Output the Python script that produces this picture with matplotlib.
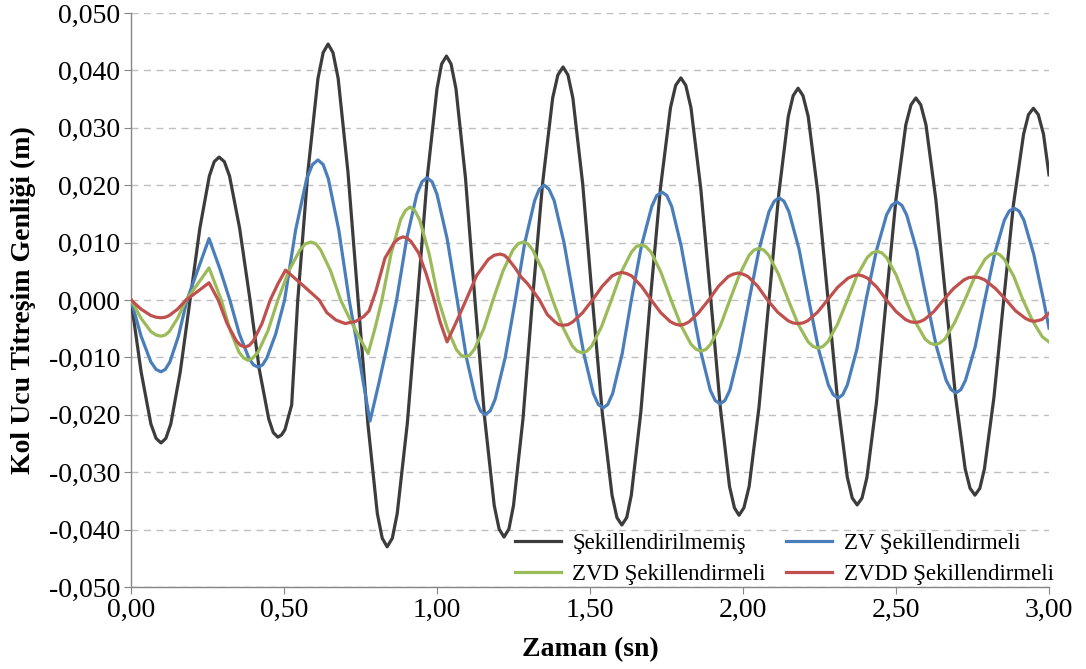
import matplotlib
matplotlib.use('Agg')
import matplotlib.pyplot as plt
from matplotlib.ticker import FuncFormatter, MultipleLocator

plt.rcParams['font.family'] = ['Liberation Serif', 'DejaVu Serif']

# Şekillendirilmemiş
t_black = [0, 0.033, 0.065, 0.082, 0.098, 0.114, 0.13, 0.161, 0.193,
           0.225, 0.256, 0.272, 0.288, 0.305, 0.322, 0.355, 0.389,
           0.419, 0.45, 0.465, 0.48, 0.492, 0.503, 0.525,
           0.545, 0.578, 0.611, 0.628, 0.644, 0.66, 0.677, 0.709, 0.742,
           0.774, 0.805, 0.821, 0.837, 0.854, 0.87, 0.903, 0.936,
           0.968, 1.0, 1.015, 1.031, 1.046, 1.062, 1.093, 1.124,
           1.156, 1.187, 1.203, 1.219, 1.235, 1.25, 1.281, 1.312,
           1.345, 1.378, 1.395, 1.412, 1.428, 1.444, 1.476, 1.508,
           1.54, 1.572, 1.588, 1.604, 1.62, 1.635, 1.666, 1.697,
           1.73, 1.763, 1.78, 1.797, 1.813, 1.83, 1.862, 1.895,
           1.926, 1.956, 1.972, 1.987, 2.003, 2.02, 2.052, 2.085,
           2.117, 2.148, 2.164, 2.18, 2.196, 2.213, 2.245, 2.278,
           2.31, 2.341, 2.357, 2.373, 2.389, 2.405, 2.436, 2.468,
           2.5, 2.532, 2.549, 2.565, 2.581, 2.598, 2.63, 2.663,
           2.695, 2.726, 2.742, 2.758, 2.774, 2.789, 2.82, 2.852,
           2.884, 2.917, 2.933, 2.949, 2.965, 2.982, 3.0]
y_black = [0, -0.0125, -0.0216, -0.0241, -0.0249, -0.0241, -0.0216, -0.0125, 0,
           0.0125, 0.0216, 0.0241, 0.0249, 0.0241, 0.0216, 0.0125, 0,
           -0.012, -0.0207, -0.0231, -0.0239, -0.0235, -0.0226, -0.0183,
           0, 0.0223, 0.0386, 0.0431, 0.0446, 0.0431, 0.0386, 0.0223, 0,
           -0.0215, -0.0372, -0.0415, -0.043, -0.0415, -0.0372, -0.0215, 0,
           0.0213, 0.0368, 0.0411, 0.0425, 0.0411, 0.0368, 0.0213, 0,
           -0.0207, -0.0358, -0.0399, -0.0413, -0.0399, -0.0358, -0.0207, 0,
           0.0203, 0.0352, 0.0392, 0.0406, 0.0392, 0.0352, 0.0203, 0,
           -0.0196, -0.034, -0.0379, -0.0392, -0.0379, -0.034, -0.0196, 0,
           0.0194, 0.0335, 0.0374, 0.0387, 0.0374, 0.0335, 0.0194, 0,
           -0.0188, -0.0325, -0.0362, -0.0375, -0.0362, -0.0325, -0.0188, 0,
           0.0185, 0.032, 0.0356, 0.0369, 0.0356, 0.032, 0.0185, 0,
           -0.0179, -0.0309, -0.0345, -0.0357, -0.0345, -0.0309, -0.0179, 0,
           0.0176, 0.0305, 0.034, 0.0352, 0.034, 0.0305, 0.0176, 0,
           -0.017, -0.0294, -0.0328, -0.034, -0.0328, -0.0294, -0.017, 0,
           0.0167, 0.0289, 0.0323, 0.0334, 0.0323, 0.0289, 0.0218]

# ZV Şekillendirmeli
t_zv = [0, 0.033, 0.065, 0.082, 0.098, 0.112, 0.127, 0.155, 0.183,
        0.22, 0.255, 0.29, 0.323,
        0.354, 0.385, 0.4, 0.415, 0.43, 0.444, 0.473, 0.502,
        0.538, 0.574, 0.593, 0.611, 0.628, 0.645, 0.679, 0.713,
        0.735, 0.758, 0.781, 0.81, 0.839, 0.868,
        0.901, 0.934, 0.951, 0.967, 0.984, 1.0, 1.033, 1.066,
        1.096, 1.127, 1.142, 1.157, 1.174, 1.19, 1.223, 1.256,
        1.287, 1.319, 1.334, 1.35, 1.366, 1.383, 1.415, 1.448,
        1.48, 1.511, 1.527, 1.543, 1.558, 1.574, 1.605, 1.635,
        1.668, 1.702, 1.718, 1.735, 1.751, 1.767, 1.798, 1.83,
        1.862, 1.893, 1.909, 1.925, 1.941, 1.957, 1.988, 2.02,
        2.053, 2.085, 2.102, 2.118, 2.134, 2.15, 2.183, 2.215,
        2.247, 2.279, 2.295, 2.311, 2.326, 2.341, 2.372, 2.402,
        2.436, 2.469, 2.486, 2.503, 2.519, 2.535, 2.568, 2.6,
        2.632, 2.664, 2.68, 2.696, 2.712, 2.727, 2.759, 2.79,
        2.822, 2.854, 2.87, 2.886, 2.902, 2.918, 2.95, 2.982, 3.0]
y_zv = [0, -0.0063, -0.0108, -0.0121, -0.0125, -0.0121, -0.0108, -0.0063, 0,
        0.0055, 0.0107, 0.0055, 0,
        -0.0059, -0.0101, -0.0113, -0.0117, -0.0113, -0.0101, -0.0059, 0,
        0.0122, 0.0211, 0.0236, 0.0244, 0.0236, 0.0211, 0.0122, 0,
        -0.0065, -0.014, -0.0211, -0.0145, -0.0075, 0,
        0.0107, 0.0184, 0.0206, 0.0213, 0.0206, 0.0184, 0.0107, 0,
        -0.01, -0.0173, -0.0193, -0.02, -0.0193, -0.0173, -0.01, 0,
        0.01, 0.0173, 0.0193, 0.02, 0.0193, 0.0173, 0.01, 0,
        -0.0094, -0.0163, -0.0182, -0.0188, -0.0182, -0.0163, -0.0094, 0,
        0.0094, 0.0163, 0.0182, 0.0188, 0.0182, 0.0163, 0.0094, 0,
        -0.009, -0.0157, -0.0175, -0.0181, -0.0175, -0.0157, -0.009, 0,
        0.0089, 0.0154, 0.0172, 0.0178, 0.0172, 0.0154, 0.0089, 0,
        -0.0086, -0.0148, -0.0165, -0.0171, -0.0165, -0.0148, -0.0086, 0,
        0.0086, 0.0148, 0.0165, 0.0171, 0.0165, 0.0148, 0.0086, 0,
        -0.0081, -0.014, -0.0156, -0.0162, -0.0156, -0.014, -0.0081, 0,
        0.008, 0.0139, 0.0155, 0.016, 0.0155, 0.0139, 0.008, 0, -0.0049]

# ZVD Şekillendirmeli
t_zvd = [0, 0.033, 0.065, 0.082, 0.098, 0.112, 0.125, 0.152, 0.18,
         0.218, 0.255, 0.275, 0.295,
         0.324, 0.353, 0.368, 0.382, 0.398, 0.415, 0.448, 0.48,
         0.516, 0.552, 0.57, 0.588, 0.604, 0.62, 0.652, 0.685,
         0.715, 0.745, 0.775, 0.798, 0.82,
         0.85, 0.881, 0.897, 0.912, 0.927, 0.943, 0.974, 1.005,
         1.034, 1.063, 1.078, 1.092, 1.107, 1.122, 1.153, 1.183,
         1.216, 1.248, 1.265, 1.281, 1.297, 1.313, 1.346, 1.378,
         1.41, 1.442, 1.458, 1.474, 1.49, 1.506, 1.538, 1.57,
         1.602, 1.635, 1.651, 1.667, 1.683, 1.7, 1.732, 1.765,
         1.798, 1.83, 1.847, 1.863, 1.879, 1.894, 1.926, 1.957,
         1.989, 2.02, 2.036, 2.052, 2.068, 2.084, 2.116, 2.148,
         2.18, 2.213, 2.229, 2.245, 2.261, 2.277, 2.309, 2.341,
         2.373, 2.406, 2.422, 2.438, 2.454, 2.469, 2.501, 2.532,
         2.564, 2.595, 2.611, 2.627, 2.643, 2.66, 2.692, 2.725,
         2.758, 2.791, 2.808, 2.824, 2.839, 2.854, 2.885, 2.915,
         2.947, 2.978, 3.0]
y_zvd = [0, -0.0032, -0.0055, -0.0061, -0.0063, -0.0061, -0.0055, -0.0032, 0,
         0.0028, 0.0056, 0.0028, 0,
         -0.0053, -0.0091, -0.0101, -0.0105, -0.0101, -0.0091, -0.0053, 0,
         0.0051, 0.0087, 0.0098, 0.0101, 0.0098, 0.0087, 0.0051, 0,
         -0.0033, -0.0064, -0.0093, -0.0048, 0,
         0.0081, 0.014, 0.0156, 0.0162, 0.0156, 0.014, 0.0081, 0,
         -0.005, -0.0086, -0.0096, -0.0099, -0.0096, -0.0086, -0.005, 0,
         0.0051, 0.0087, 0.0098, 0.0101, 0.0098, 0.0087, 0.0051, 0,
         -0.0046, -0.008, -0.0089, -0.0092, -0.0089, -0.008, -0.0046, 0,
         0.0048, 0.0083, 0.0093, 0.0096, 0.0093, 0.0083, 0.0048, 0,
         -0.0045, -0.0077, -0.0086, -0.0089, -0.0086, -0.0077, -0.0045, 0,
         0.0045, 0.0078, 0.0087, 0.009, 0.0087, 0.0078, 0.0045, 0,
         -0.0042, -0.0073, -0.0081, -0.0084, -0.0081, -0.0073, -0.0042, 0,
         0.0043, 0.0074, 0.0082, 0.0085, 0.0082, 0.0074, 0.0043, 0,
         -0.0039, -0.0068, -0.0075, -0.0078, -0.0075, -0.0068, -0.0039, 0,
         0.0041, 0.0071, 0.0079, 0.0082, 0.0079, 0.0071, 0.0041, 0,
         -0.0037, -0.0064, -0.0073]

# ZVDD Şekillendirmeli
t_zvdd = [0, 0.033, 0.065, 0.082, 0.098, 0.112, 0.125, 0.152, 0.18,
          0.218, 0.255, 0.27, 0.285,
          0.314, 0.344, 0.358, 0.373, 0.387, 0.4, 0.428, 0.455,
          0.48, 0.505, 0.535, 0.565, 0.59, 0.615,
          0.64, 0.67, 0.70, 0.735, 0.76, 0.778,
          0.80, 0.83, 0.86, 0.875, 0.889, 0.902, 0.915, 0.94, 0.965, 0.988,
          1.01, 1.033, 1.065, 1.095,
          1.13, 1.168, 1.187, 1.206, 1.22, 1.232, 1.255, 1.275, 1.295, 1.315, 1.335,
          1.36, 1.385, 1.398, 1.412, 1.428, 1.444, 1.476, 1.508,
          1.54, 1.572, 1.588, 1.604, 1.62, 1.636, 1.668, 1.70,
          1.731, 1.763, 1.779, 1.794, 1.809, 1.824, 1.855, 1.888,
          1.92, 1.952, 1.968, 1.984, 2.0, 2.016, 2.048, 2.08,
          2.113, 2.147, 2.163, 2.18, 2.196, 2.212, 2.244, 2.276,
          2.309, 2.343, 2.36, 2.376, 2.391, 2.407, 2.438, 2.469,
          2.5, 2.531, 2.547, 2.562, 2.577, 2.593, 2.624, 2.655,
          2.688, 2.722, 2.738, 2.755, 2.772, 2.79, 2.825, 2.86,
          2.891, 2.923, 2.939, 2.954, 2.977, 3.0]
y_zvdd = [0, -0.0016, -0.0027, -0.003, -0.0031, -0.003, -0.0027, -0.0016, 0,
          0.0015, 0.003, 0.0015, 0,
          -0.0041, -0.0071, -0.0079, -0.0082, -0.0079, -0.0071, -0.0041, 0,
          0.0028, 0.0052, 0.0038, 0.0024, 0.0012, 0,
          -0.0022, -0.0035, -0.0041, -0.0037, -0.0029, -0.0019,
          0.0015, 0.0073, 0.01, 0.0107, 0.011, 0.0108, 0.0102, 0.0082, 0.0045, 0.0005,
          -0.0038, -0.0073, -0.0036, 0,
          0.0043, 0.0071, 0.0078, 0.008, 0.0078, 0.0072, 0.0056, 0.004, 0.0029, 0.0015, 0,
          -0.0025, -0.0038, -0.0043, -0.0044, -0.0043, -0.0038, -0.0022, 0,
          0.0024, 0.0042, 0.0046, 0.0048, 0.0046, 0.0042, 0.0024, 0,
          -0.0022, -0.0038, -0.0042, -0.0044, -0.0042, -0.0038, -0.0022, 0,
          0.0024, 0.0041, 0.0045, 0.0047, 0.0045, 0.0041, 0.0024, 0,
          -0.0021, -0.0036, -0.004, -0.0041, -0.004, -0.0036, -0.0021, 0,
          0.0022, 0.0038, 0.0042, 0.0044, 0.0042, 0.0038, 0.0022, 0,
          -0.002, -0.0034, -0.0038, -0.0039, -0.0038, -0.0034, -0.002, 0,
          0.002, 0.0035, 0.0039, 0.004, 0.0039, 0.0035, 0.002, 0,
          -0.0019, -0.0032, -0.0036, -0.0037, -0.0034, -0.0023]

labels = ['Şekillendirilmemiş', 'ZV Şekillendirmeli',
          'ZVD Şekillendirmeli', 'ZVDD Şekillendirmeli']
colors = ['#3c3c3c', '#4a7ebb', '#9bbb59', '#c0504d']


def comma(fmt):
    def f(v, pos):
        if abs(v) < 1e-9:
            v = 0.0
        return format(v, fmt).replace('.', ',')
    return FuncFormatter(f)


fig = plt.figure(figsize=(10.86, 6.69), dpi=100)
ax = fig.add_axes([131 / 1086, 1 - 587 / 669, (1049 - 131) / 1086, (587 - 13) / 669])

series = [(t_black, y_black), (t_zv, y_zv), (t_zvd, y_zvd), (t_zvdd, y_zvdd)]
handles = []
for (t, y), c, lab in zip(series, colors, labels):
    h, = ax.plot(t, y, color=c, lw=2.3, label=lab, solid_joinstyle='round', zorder=3)
    handles.append(h)

ax.set_xlim(0, 3)
ax.set_ylim(-0.05, 0.05)
ax.xaxis.set_major_locator(MultipleLocator(0.5))
ax.yaxis.set_major_locator(MultipleLocator(0.01))
ax.xaxis.set_major_formatter(comma('.2f'))
ax.yaxis.set_major_formatter(comma('.3f'))
ax.grid(axis='y', color='#bfbfbf', ls=(0, (5, 4)), lw=1.0, zorder=0)
for s in ['top', 'right']:
    ax.spines[s].set_visible(False)
for s in ['left', 'bottom']:
    ax.spines[s].set_color('#868686')
    ax.spines[s].set_linewidth(1.0)
ax.tick_params(axis='both', direction='out', length=5, color='#868686',
               labelsize=20, pad=3)
ax.set_xlabel('Zaman (sn)', fontsize=20, fontweight='bold', labelpad=10)
ax.set_ylabel('Kol Ucu Titreşim Genliği (m)', fontsize=20, fontweight='bold', labelpad=9)

# legend rows: black / ZV on top, ZVD / ZVDD below (matplotlib fills by column)
ax.legend(handles=[handles[0], handles[2], handles[1], handles[3]], ncol=2,
          loc='upper left', bbox_to_anchor=(515 / 1086, 1 - 533 / 669),
          bbox_transform=fig.transFigure, frameon=False, fontsize=16.5,
          borderpad=0, borderaxespad=0, handlelength=2.0, handletextpad=0.5,
          columnspacing=0.9, labelspacing=0.45)

fig.savefig('out.png', dpi=100)
